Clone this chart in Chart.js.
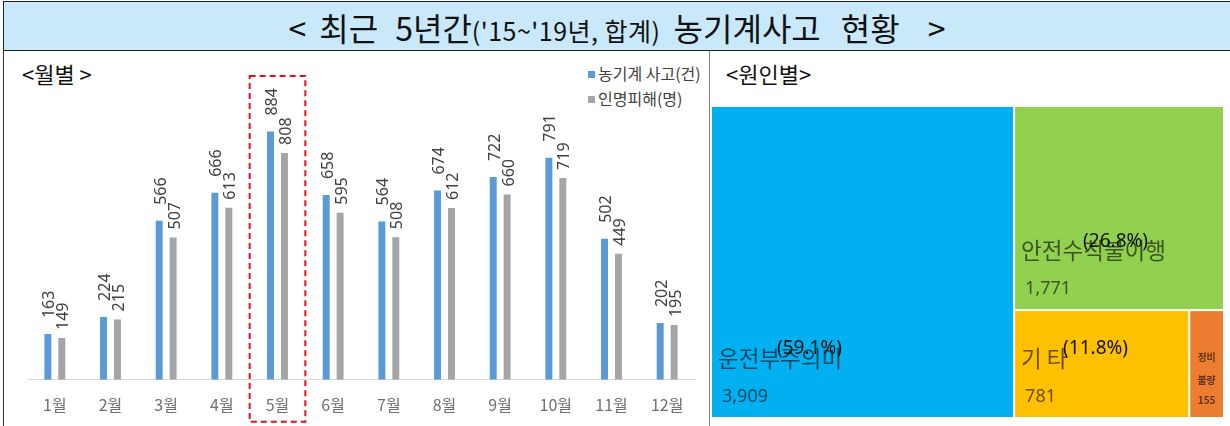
<!DOCTYPE html>
<html>
<head>
<meta charset="utf-8">
<script src="https://cdn.jsdelivr.net/npm/chart.js@4.4.0/dist/chart.umd.min.js"></script>
<style>
  body { margin: 0; width: 1230px; height: 426px; overflow: hidden; background: #fff; position: relative;
         font-family: "Noto Sans CJK KR", sans-serif; }
  #title { position: absolute; left: 3px; top: 1px; width: 1227px; height: 50px; box-sizing: border-box;
           background: #c9e9fb; border: 1px solid #222; border-right: none;
           text-align: center; line-height: 50px; white-space: pre; color: #111; }
  #title .big { font-size: 32px; }
  #title .small { font-size: 25px; letter-spacing: 0.5px; }
  #leftLine { position: absolute; left: 3px; top: 51px; width: 1px; height: 375px; background: #333; }
  #divider { position: absolute; left: 709px; top: 51px; width: 1px; height: 375px; background: #7f7f7f; }
  .caption { position: absolute; top: 60px; font-size: 22px; color: #111; white-space: pre; line-height: 26px; }
  #legend { position: absolute; left: 588px; top: 61px; font-size: 16px; color: #404040; line-height: 25px; }
  #legend span.mk { display: inline-block; width: 7px; height: 7px; margin-right: 3px; vertical-align: 2px; }
  #barBox { position: absolute; left: 0; top: 52px; width: 708px; height: 374px; }
  #mapBox { position: absolute; left: 710px; top: 52px; width: 520px; height: 374px; }
</style>
</head>
<body>
<div id="title"><span class="big">&lt;</span><span class="big" style="margin-left:13px">최근</span><span class="big" style="margin-left:17px">5년간</span><span class="small">('15~'19년, 합계)</span><span class="big" style="margin-left:13px">농기계사고</span><span class="big" style="margin-left:20px">현황</span><span class="big" style="margin-left:28px">&gt;</span></div>
<div id="leftLine"></div>
<div id="divider"></div>
<div class="caption" style="left:22px">&lt;월별 &gt;</div>
<div class="caption" style="left:726px">&lt;원인별&gt;</div>
<div id="legend">
  <div><span class="mk" style="background:#5b9bd5"></span>농기계 사고(건)</div>
  <div><span class="mk" style="background:#a5a5a5"></span>인명피해(명)</div>
</div>
<div id="barBox"><canvas id="barChart"></canvas></div>
<div id="mapBox"><canvas id="mapChart"></canvas></div>

<script>
// 월별 데이터
const months = ["1월", "2월", "3월", "4월", "5월", "6월", "7월", "8월", "9월", "10월", "11월", "12월"];
const accidents = [163, 224, 566, 666, 884, 658, 564, 674, 722, 791, 502, 202];
const casualties = [149, 215, 507, 613, 808, 595, 508, 612, 660, 719, 449, 195];
const highlightMonth = "5월";

// 원인별 데이터
const causes = ["운전부주의미", "안전수칙불이행", "기 타", "정비 불량"];
const causeCounts = [3909, 1771, 781, 155];

const causeColors = ["#00b0f0", "#92d050", "#ffc000", "#ed7d31"];
const pctOffsets = [65, 68, 48]; // 퍼센트 글자 x 위치

// 막대 위 세로 레이블
const barLabels = {
    id: "barLabels",
    afterDatasetsDraw(chart) {
        const ctx = chart.ctx;
        ctx.save();
        ctx.font = '16px "Noto Sans", sans-serif';
        ctx.fillStyle = "#404040";
        ctx.textAlign = "left";
        ctx.textBaseline = "middle";
        chart.data.datasets.forEach((ds, i) => {
            chart.getDatasetMeta(i).data.forEach((bar, j) => {
                ctx.save();
                ctx.translate(bar.x + 2, bar.y - (i === 0 ? 16 : 8));
                ctx.rotate(-Math.PI / 2);
                ctx.fillText(ds.data[j], 0, 0);
                ctx.restore();
            });
        });
        ctx.restore();
    },
};

// 5월 빨간 점선 박스
const highlightBox = {
    id: "highlightBox",
    afterDraw(chart) {
        const x = chart.scales.x;
        const idx = months.indexOf(highlightMonth);
        const half = (x.getPixelForValue(1) - x.getPixelForValue(0)) / 2;
        const cx = x.getPixelForValue(idx);
        const top = chart.chartArea.top - 23;
        const bottom = chart.chartArea.bottom + 42;
        const ctx = chart.ctx;
        ctx.save();
        ctx.strokeStyle = "#e3121b";
        ctx.lineWidth = 2;
        ctx.setLineDash([6, 4]);
        ctx.strokeRect(cx - half, top, half * 2, bottom - top);
        ctx.restore();
    },
};

new Chart(document.getElementById("barChart"), {
    type: "bar",
    data: {
        labels: months,
        datasets: [
            { label: "농기계 사고(건)", data: accidents, backgroundColor: "#5b9bd5" },
            { label: "인명피해(명)", data: casualties, backgroundColor: "#a5a5a5" },
        ],
    },
    options: {
        responsive: true,
        maintainAspectRatio: false,
        animation: false,
        layout: { padding: { left: 27, right: 13, top: 47, bottom: -5 } },
        datasets: { bar: { categoryPercentage: 0.5, barPercentage: 0.5 } },
        plugins: { legend: { display: false }, tooltip: { enabled: false } },
        scales: {
            x: {
                grid: { display: false, drawTicks: false },
                border: { color: "#d9d9d9", width: 1 },
                ticks: { color: "#707070", padding: 16, font: { size: 16, family: '"Noto Sans CJK KR", sans-serif' } },
            },
            y: { display: false, min: 0, max: 1000 },
        },
    },
    plugins: [barLabels, highlightBox],
});

// 트리맵 배치 (squarified)
function squarify(areas, rect) {
    const out = [];
    let r = { ...rect };
    let i = 0;
    while (i < areas.length) {
        const side = Math.min(r.w, r.h);
        const worst = (row) => {
            const s = row.reduce((a, b) => a + b, 0);
            return Math.max((side * side * Math.max(...row)) / (s * s), (s * s) / (side * side * Math.min(...row)));
        };
        const row = [areas[i]];
        let j = i + 1;
        while (j < areas.length && worst([...row, areas[j]]) <= worst(row)) {
            row.push(areas[j]);
            j++;
        }
        const s = row.reduce((a, b) => a + b, 0);
        if (r.w >= r.h) {
            const cw = s / r.h;
            let yy = r.y;
            row.forEach((a) => { out.push({ x: r.x, y: yy, w: cw, h: a / cw }); yy += a / cw; });
            r = { x: r.x + cw, y: r.y, w: r.w - cw, h: r.h };
        } else {
            const rh = s / r.w;
            let xx = r.x;
            row.forEach((a) => { out.push({ x: xx, y: r.y, w: a / rh, h: rh }); xx += a / rh; });
            r = { x: r.x, y: r.y + rh, w: r.w, h: r.h - rh };
        }
        i = j;
    }
    return out;
}

const treemap = {
    id: "treemap",
    afterDraw(chart) {
        const xs = chart.scales.x, ys = chart.scales.y;
        const area = chart.chartArea;
        const aspect = (area.right - area.left) / (area.bottom - area.top);
        const total = causeCounts.reduce((a, b) => a + b, 0);
        const cells = squarify(causeCounts.map((v) => (v / total) * aspect), { x: 0, y: 0, w: aspect, h: 1 });
        const ctx = chart.ctx;
        ctx.save();
        cells.forEach((c, i) => {
            const x0 = xs.getPixelForValue(c.x / aspect), x1 = xs.getPixelForValue((c.x + c.w) / aspect);
            const y0 = ys.getPixelForValue(c.y), y1 = ys.getPixelForValue(c.y + c.h);
            ctx.fillStyle = causeColors[i];
            ctx.fillRect(x0 + 1, y0 + 1, x1 - x0 - 2, y1 - y0 - 2);
            const left = x0 + 1, bottom = y1 - 1;
            ctx.fillStyle = "rgba(0,0,0,0.6)";
            ctx.textBaseline = "middle";
            if (i < 3) {
                ctx.textAlign = "left";
                ctx.font = '22.5px "Noto Sans CJK KR", sans-serif';
                ctx.fillText(causes[i], left + 6, bottom - 59);
                ctx.font = '18px "Noto Sans", sans-serif';
                ctx.fillText(causeCounts[i].toLocaleString("en-US"), left + 10, bottom - 20);
                ctx.fillStyle = "#111";
                ctx.font = '19px "Noto Sans", "Noto Sans CJK KR", sans-serif';
                ctx.fillText("(" + ((causeCounts[i] / total) * 100).toFixed(1) + "%)", left + pctOffsets[i], bottom - 68);
            } else {
                const cx = (x0 + x1) / 2;
                ctx.textAlign = "center";
                ctx.font = 'bold 10px "Noto Sans CJK KR", sans-serif';
                const parts = causes[i].split(" ");
                ctx.fillText(parts[0], cx, bottom - 60);
                ctx.fillText(parts[1], cx, bottom - 37);
                ctx.fillText(causeCounts[i], cx, bottom - 17);
            }
        });
        ctx.restore();
    },
};

new Chart(document.getElementById("mapChart"), {
    type: "scatter",
    data: { datasets: [{ data: [] }] },
    options: {
        responsive: true,
        maintainAspectRatio: false,
        animation: false,
        layout: { padding: { left: 1, right: 6, top: 54, bottom: 8 } },
        plugins: { legend: { display: false }, tooltip: { enabled: false } },
        scales: {
            x: { type: "linear", min: 0, max: 1, display: false },
            y: { type: "linear", min: 0, max: 1, reverse: true, display: false },
        },
    },
    plugins: [treemap],
});
</script>
</body>
</html>
